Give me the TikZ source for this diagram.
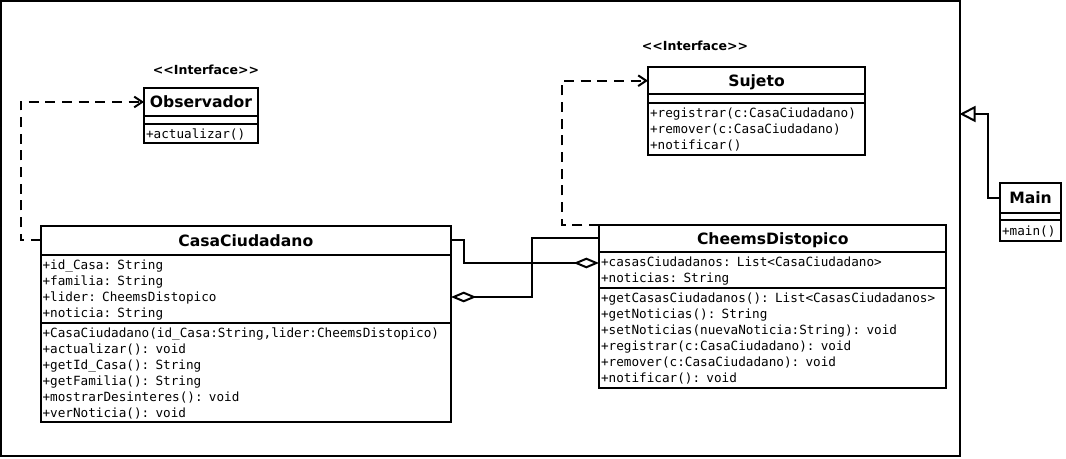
\documentclass[tikz,border=0pt]{standalone}
\usepackage{fontspec}
\usetikzlibrary{arrows.meta,calc}
\newfontfamily\monof{DejaVu Sans Mono}
\newfontfamily\sansf{DejaVu Sans}
\newcommand\Ln[1]{\mbox{\rule[-2.6pt]{0pt}{12pt}#1}}
\newcommand\titlef{\sansf\bfseries\fontsize{11.7}{13}\selectfont}
\newcommand\secf{\monof\fontsize{9.5}{12}\selectfont}
\newcommand\ifacef{\sansf\bfseries\fontsize{9.4}{11}\selectfont}
\begin{document}
\begin{tikzpicture}[x=0.75pt,y=-0.75pt,
  cls/.style={draw, line width=1.5pt, anchor=north west, inner sep=0pt, outer sep=0pt},
  ttl/.style={cls, font=\titlef, text height=8.5pt, text depth=0pt},
  sec/.style={cls, font=\secf, align=left, inner xsep=1.5pt, inner ysep=0pt},
  iface/.style={font=\ifacef, inner sep=0pt},
  dep/.style={line width=1.5pt, dash pattern=on 7.5pt off 5pt, -{Straight Barb[length=6pt,width=8pt]}},
  agg/.style={line width=1.5pt, -{Diamond[open,length=19pt,width=8pt]}},
  gen/.style={line width=1.5pt, -{Triangle[open,length=12pt,width=12pt]}},
]
\fill[white] (0,0) rectangle (1066,459);
\useasboundingbox (0,0) rectangle (1066,459);

% package frame
\node[cls, minimum width=718.9pt, minimum height=340.9pt] (frame) at (1,1) {};

% Observador
\node[iface] (obs-st) at (206,70) {<\kern0pt<Interface>\kern0pt>};
\node[ttl, minimum width=85.5pt, minimum height=21pt] (obs-t) at (144,88) {Observador};
\node[sec, text width=82.5pt, minimum height=6pt] (obs-a) at (obs-t.south west) {};
\node[sec, text width=82.5pt, minimum height=14.25pt] (obs-m) at (obs-a.south west) {\Ln{+actualizar()}};

% Sujeto
\node[iface] (suj-st) at (695,46) {<\kern0pt<Interface>\kern0pt>};
\node[ttl, minimum width=162.75pt, minimum height=20.6pt] (suj-t) at (648,67) {Sujeto};
\node[sec, text width=159.75pt, minimum height=6.4pt] (suj-a) at (suj-t.south west) {};
\node[sec, text width=159.75pt, minimum height=39pt] (suj-m) at (suj-a.south west) {\Ln{+registrar(c:CasaCiudadano)}\\\Ln{+remover(c:CasaCiudadano)}\\\Ln{+notificar()}};

% CasaCiudadano
\node[ttl, minimum width=307.9pt, minimum height=21.75pt] (casa-t) at (40.5,226) {CasaCiudadano};
\node[sec, text width=304.9pt, minimum height=51pt] (casa-a) at (casa-t.south west) {\Ln{+id\_Casa: String}\\\Ln{+familia: String}\\\Ln{+lider: CheemsDistopico}\\\Ln{+noticia: String}};
\node[sec, text width=304.9pt, minimum height=74.25pt] (casa-m) at (casa-a.south west) {\Ln{+CasaCiudadano(id\_Casa:String,lider:CheemsDistopico)}\\\Ln{+actualizar(): void}\\\Ln{+getId\_Casa(): String}\\\Ln{+getFamilia(): String}\\\Ln{+mostrarDesinteres(): void}\\\Ln{+verNoticia(): void}};

% CheemsDistopico
\node[ttl, minimum width=260.6pt, minimum height=20.25pt] (cheems-t) at (599,225) {CheemsDistopico};
\node[sec, text width=257.6pt, minimum height=27pt] (cheems-a) at (cheems-t.south west) {\Ln{+casasCiudadanos: List<CasaCiudadano>}\\\Ln{+noticias: String}};
\node[sec, text width=257.6pt, minimum height=75pt] (cheems-m) at (cheems-a.south west) {\Ln{+getCasasCiudadanos(): List<CasasCiudadanos>}\\\Ln{+getNoticias(): String}\\\Ln{+setNoticias(nuevaNoticia:String): void}\\\Ln{+registrar(c:CasaCiudadano): void}\\\Ln{+remover(c:CasaCiudadano): void}\\\Ln{+notificar(): void}};

% Main
\node[ttl, minimum width=45.75pt, minimum height=22.5pt] (main-t) at (1000,183) {Main};
\node[sec, text width=42.75pt, minimum height=5.25pt] (main-a) at (main-t.south west) {};
\node[sec, text width=42.75pt, minimum height=15.75pt] (main-m) at (main-a.south west) {\Ln{+main()}};

% connectors
\coordinate (gen) at ($(frame.north east)+(0,113)$);
\draw[dep] (casa-t.west) -- ++(-20,0) |- (obs-t.west);
\draw[dep] (cheems-t.north west) -- ++(-37,0) |- (suj-t.west);
\draw[agg] (casa-t.east) -- ++(13,0) |- ($(cheems-a.north west)+(0,11)$);
\draw[agg] (cheems-t.west) -- ++(-67,0) |- ($(casa-a.north east)+(0,42)$);
\draw[gen] (main-t.west) -- ++(-12,0) |- (gen);
\end{tikzpicture}
\end{document}
